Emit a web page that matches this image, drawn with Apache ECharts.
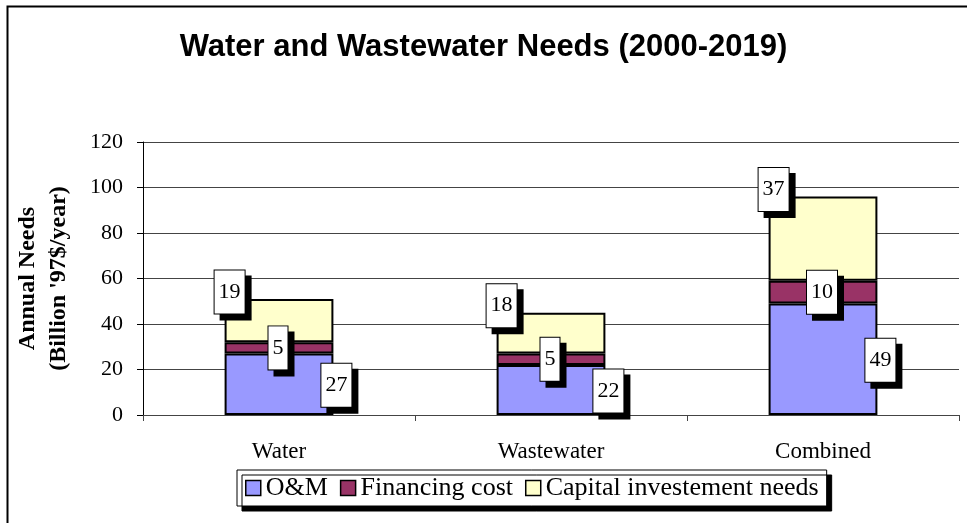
<!DOCTYPE html>
<html>
<head>
<meta charset="utf-8">
<script src="https://cdn.jsdelivr.net/npm/echarts@6/dist/echarts.min.js"></script>
<style>
  html, body { margin: 0; padding: 0; background: #fff; }
  #main { width: 967px; height: 523px; }
</style>
</head>
<body>
<div id="main"></div>
<script>
// data
var categories = ['Water', 'Wastewater', 'Combined'];
var omValues = [27, 22, 49];
var financingValues = [5, 5, 10];
var capitalValues = [19, 18, 37];
var yTicks = [0, 20, 40, 60, 80, 100, 120];

var serif = '"Liberation Serif", "DejaVu Serif", serif';

// white boxed value labels with hard black shadow (Excel style)
function boxLabel(position, extra) {
  var lbl = {
    show: true,
    position: position,
    align: 'center',
    verticalAlign: 'middle',
    fontFamily: serif,
    fontSize: 22,
    color: '#000',
    backgroundColor: '#fff',
    borderColor: '#000',
    borderWidth: 1,
    padding: [11, 4, 10, 4],
    shadowColor: '#000',
    shadowBlur: 0,
    shadowOffsetX: 6,
    shadowOffsetY: 6
  };
  if (extra) {
    for (var k in extra) lbl[k] = extra[k];
  }
  return lbl;
}

var chart = echarts.init(document.getElementById('main'), null, { renderer: 'canvas' });

var option = {
  backgroundColor: '#fff',
  animation: false,
  title: {
    text: 'Water and Wastewater Needs (2000-2019)',
    left: 'center',
    top: 27,
    textStyle: {
      fontFamily: '"Liberation Sans", Arial, sans-serif',
      fontWeight: 'bold',
      fontSize: 31,
      color: '#000'
    }
  },
  graphic: [{
    type: 'rect',
    silent: true,
    shape: { x: 7.5, y: 6.5, width: 1000, height: 600 },
    style: { fill: null, stroke: '#000', lineWidth: 2 }
  }],
  legend: {
    left: 237,
    top: 470,
    orient: 'horizontal',
    padding: [5, 8, 5, 8],
    itemWidth: 15,
    itemHeight: 15,
    itemGap: 12,
    icon: 'rect',
    backgroundColor: '#fff',
    borderColor: '#000',
    borderWidth: 1,
    shadowColor: '#000',
    shadowBlur: 0,
    shadowOffsetX: 5,
    shadowOffsetY: 5,
    textStyle: { fontFamily: serif, fontSize: 26, color: '#000' },
    itemStyle: { borderColor: '#000', borderWidth: 1.5 }
  },
  grid: {
    left: 143,
    right: 8,
    top: 142,
    bottom: 108,
    containLabel: false
  },
  xAxis: {
    type: 'category',
    data: categories,
    axisLine: { lineStyle: { color: '#444', width: 1 } },
    axisTick: { show: true, length: 6, inside: false, lineStyle: { color: '#444' } },
    axisLabel: { margin: 25, fontFamily: serif, fontSize: 23, color: '#000' }
  },
  yAxis: {
    type: 'value',
    min: 0,
    max: 120,
    interval: 20,
    name: "Annual Needs\n(Billion '97$/year)",
    nameLocation: 'middle',
    nameGap: 69,
    nameRotate: 90,
    nameTextStyle: {
      fontFamily: serif,
      fontWeight: 'bold',
      fontSize: 24,
      color: '#000',
      lineHeight: 31
    },
    axisLine: { show: true, lineStyle: { color: '#000', width: 1 } },
    axisTick: { show: true, length: 6, inside: false, lineStyle: { color: '#000' } },
    axisLabel: {
      margin: 20,
      fontFamily: serif,
      fontSize: 22,
      color: '#000',
      formatter: function (v) { return yTicks.indexOf(v) >= 0 ? String(v) : ''; }
    },
    splitLine: { show: true, lineStyle: { color: '#444', width: 1 } }
  },
  series: [{
    name: 'O&M',
    type: 'bar',
    stack: 'needs',
    barWidth: '40%',
    data: omValues,
    itemStyle: { color: '#9999FF', borderColor: '#000', borderWidth: 2 },
    label: boxLabel(['100%', '50%'], { offset: [3, 1] })
  }, {
    name: 'Financing cost',
    type: 'bar',
    stack: 'needs',
    data: financingValues,
    itemStyle: { color: '#993366', borderColor: '#000', borderWidth: 2 },
    label: boxLabel('inside', { offset: [-1, 0] })
  }, {
    name: 'Capital investement needs',
    type: 'bar',
    stack: 'needs',
    data: capitalValues,
    itemStyle: { color: '#FFFFCC', borderColor: '#000', borderWidth: 2 },
    label: boxLabel([5, -7])
  }]
};

chart.setOption(option);
</script>
</body>
</html>
